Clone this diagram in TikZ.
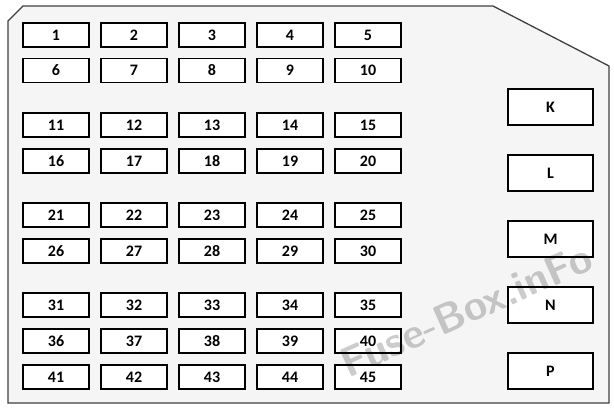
\documentclass[tikz,border=0pt]{standalone}
\usepackage{fontspec}
\setmainfont{Carlito}
\begin{document}
\begin{tikzpicture}[x=1pt,y=-1pt,
  fuse/.style={draw=black,line width=1.8pt,fill=white,minimum width=66pt,minimum height=24pt,inner sep=0pt,font=\fontsize{16}{16}\selectfont\bfseries},
  relay/.style={draw=black,line width=1.8pt,fill=white,minimum width=85pt,minimum height=36pt,inner sep=0pt,font=\fontsize{16}{16}\selectfont\bfseries}]
\useasboundingbox (0,0) rectangle (614,410);
\fill[white] (0,0) rectangle (614,410);
\draw[draw=black!75,line width=1.3pt,fill=black!4] (8,21) -- (23,6) -- (493,6) -- (609,66) -- (609,403) -- (8,403) -- cycle;
\foreach \r/\y in {0/35,1/70.5,2/125,3/161,4/215,5/251,6/305,7/341,8/377}{
  \foreach \c in {0,...,4}{
    \pgfmathtruncatemacro{\n}{\r*5+\c+1}
    \node[fuse] (f\n) at (56+78*\c,\y) {\n};
  }
}
\node[relay] (K) at (550.5,107) {K};
\node[relay] (L) at (550.5,173) {L};
\node[relay] (M) at (550.5,239) {M};
\node[relay] (N) at (550.5,305) {N};
\node[relay] (P) at (550.5,371) {P};
\node[text=black,opacity=0.2,rotate=24,font=\fontsize{42}{42}\selectfont\bfseries\sffamily] (wm) at (466,310) {Fuse-Box.inFo};
\end{tikzpicture}
\end{document}
